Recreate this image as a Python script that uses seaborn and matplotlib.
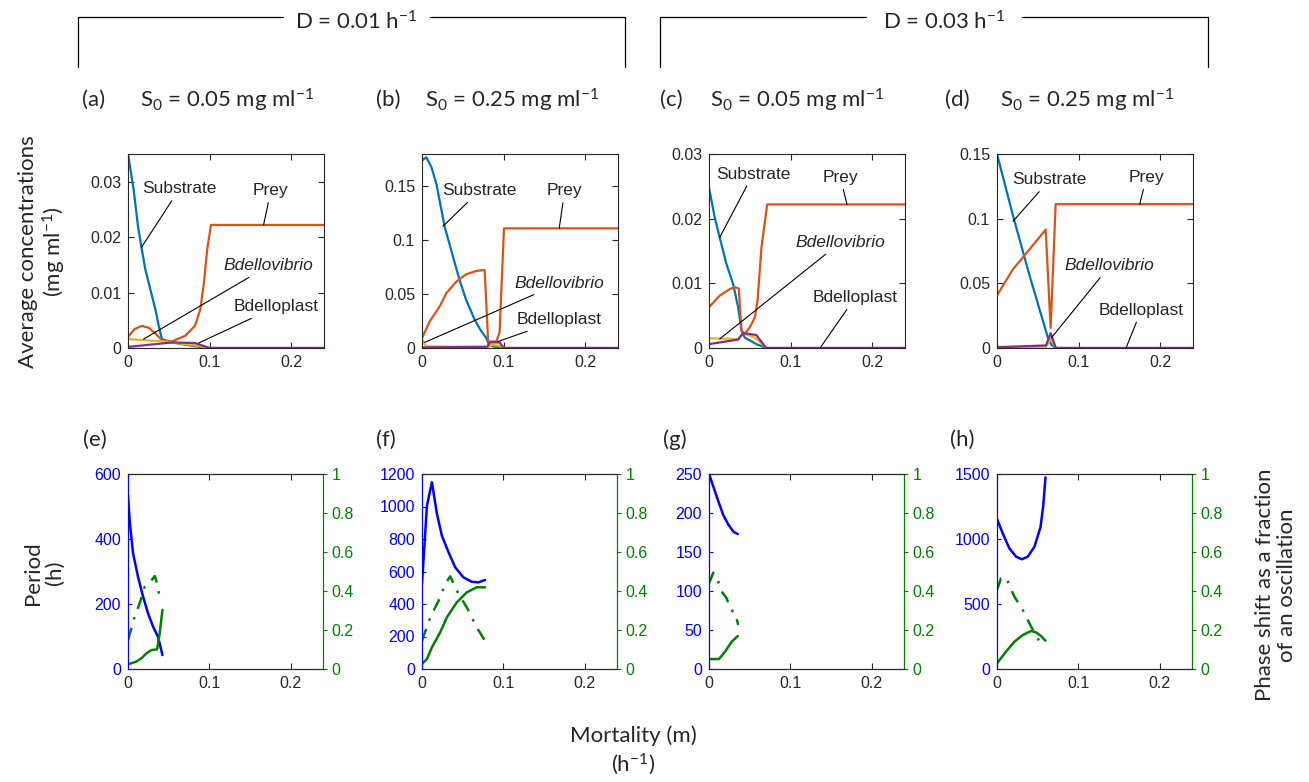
import matplotlib
matplotlib.use("Agg")
import matplotlib.pyplot as plt
from matplotlib.lines import Line2D
from matplotlib.ticker import FuncFormatter, MultipleLocator
import seaborn as sns

# ---------------- data ----------------
# panel (a)  D = 0.01, S0 = 0.05
sub_a_m = [0, 0.0069, 0.0122, 0.0163, 0.0212, 0.0273, 0.0335, 0.0376, 0.0416, 0.054, 0.078, 0.099, 0.24]
sub_a = [0.035, 0.0286, 0.0220, 0.0183, 0.0142, 0.0106, 0.0070, 0.0040, 0.0016, 0.0010, 0.0004, 0, 0]
prey_a_m = [0, 0.008, 0.017, 0.026, 0.035, 0.042, 0.054, 0.070, 0.082, 0.0886, 0.093, 0.097, 0.1016, 0.24]
prey_a = [0.0020, 0.0034, 0.0040, 0.0036, 0.0024, 0.0013, 0.0012, 0.0022, 0.0040, 0.0070, 0.0118, 0.0178, 0.0222, 0.0222]
vib_a_m = [0, 0.042, 0.086, 0.099, 0.24]
vib_a = [0.0016, 0.0012, 0.0004, 0, 0]
plast_a_m = [0, 0.054, 0.082, 0.100, 0.24]
plast_a = [0.0002, 0.0010, 0.0009, 0, 0]

# panel (b)  D = 0.01, S0 = 0.25
sub_b_m = [0, 0.0053, 0.0114, 0.0176, 0.0278, 0.038, 0.046, 0.054, 0.0645, 0.0727, 0.0788, 0.082, 0.087, 0.099, 0.24]
sub_b = [0.174, 0.177, 0.168, 0.1525, 0.1124, 0.0847, 0.063, 0.0447, 0.0262, 0.0154, 0.0092, 0.003, 0.0015, 0, 0]
prey_b_m = [0, 0.0094, 0.0216, 0.0298, 0.042, 0.054, 0.0665, 0.0767, 0.081, 0.091, 0.095, 0.1004, 0.24]
prey_b = [0.0092, 0.0246, 0.0385, 0.0508, 0.0616, 0.0684, 0.0715, 0.0724, 0.006, 0.006, 0.0145, 0.111, 0.111]
vib_b_m = [0, 0.005, 0.080, 0.085, 0.095, 0.100, 0.24]
vib_b = [0.008, 0.0015, 0.0008, 0.003, 0.002, 0, 0]
plast_b_m = [0, 0.080, 0.083, 0.095, 0.100, 0.24]
plast_b = [0.0005, 0.0012, 0.0052, 0.0052, 0, 0]

# panel (c)  D = 0.03, S0 = 0.05
sub_c_m = [0, 0.007, 0.0131, 0.0213, 0.0295, 0.0357, 0.0398, 0.0439, 0.058, 0.070, 0.24]
sub_c = [0.0248, 0.0202, 0.0171, 0.0130, 0.0099, 0.0063, 0.0027, 0.0016, 0.0006, 0, 0]
prey_c_m = [0, 0.0131, 0.0254, 0.0316, 0.0365, 0.0398, 0.0439, 0.050, 0.0561, 0.0594, 0.0643, 0.0713, 0.24]
prey_c = [0.0063, 0.0081, 0.0091, 0.0094, 0.0092, 0.0027, 0.0022, 0.0032, 0.0047, 0.0073, 0.0156, 0.0222, 0.0222]
vib_c_m = [0, 0.0357, 0.0418, 0.056, 0.070, 0.24]
vib_c = [0.0015, 0.0014, 0.0023, 0.0016, 0, 0]
plast_c_m = [0, 0.0357, 0.0418, 0.058, 0.070, 0.24]
plast_c = [0.0006, 0.0013, 0.0023, 0.0020, 0, 0]

# panel (d)  D = 0.03, S0 = 0.25
sub_d_m = [0, 0.0196, 0.040, 0.0624, 0.0665, 0.072, 0.24]
sub_d = [0.150, 0.1023, 0.0557, 0.0078, 0.0026, 0, 0]
prey_d_m = [0, 0.0196, 0.040, 0.0596, 0.0657, 0.0718, 0.24]
prey_d = [0.0407, 0.0609, 0.0764, 0.0915, 0.0155, 0.1112, 0.1112]
vib_d_m = [0, 0.060, 0.066, 0.072, 0.24]
vib_d = [0.001, 0.001, 0.007, 0, 0]
plast_d_m = [0, 0.060, 0.0657, 0.072, 0.24]
plast_d = [0.0005, 0.0020, 0.0115, 0, 0]

# period (h) and phase shift, panels (e)-(h)
per_e_m = [0, 0.002, 0.0062, 0.0123, 0.0185, 0.0247, 0.0309, 0.037, 0.0424]
per_e = [535, 458, 356, 284, 223, 171, 130, 99, 43]
ph_e_m = [0, 0.0103, 0.0165, 0.0226, 0.0288, 0.0358, 0.039, 0.0424]
ph_e = [0.024, 0.038, 0.055, 0.080, 0.097, 0.101, 0.183, 0.303]
ph2_e_m = [0, 0.0082, 0.0144, 0.0206, 0.0267, 0.033, 0.0358, 0.040]
ph2_e = [0.149, 0.268, 0.337, 0.422, 0.443, 0.477, 0.44, 0.345]

per_f_m = [0, 0.0061, 0.0122, 0.0184, 0.0245, 0.0327, 0.0408, 0.051, 0.0612, 0.0694, 0.0776]
per_f = [523, 1005, 1149, 954, 820, 718, 626, 564, 537, 533, 548]
ph_f_m = [0, 0.0061, 0.0122, 0.0224, 0.0306, 0.0429, 0.0551, 0.0673, 0.0776]
ph_f = [0.026, 0.051, 0.111, 0.188, 0.265, 0.342, 0.393, 0.419, 0.419]
ph2_f_m = [0, 0.0102, 0.0204, 0.0286, 0.0347, 0.0449, 0.0551, 0.0673, 0.0776]
ph2_f = [0.145, 0.265, 0.350, 0.436, 0.475, 0.385, 0.316, 0.214, 0.145]

per_g_m = [0, 0.0053, 0.0115, 0.0177, 0.0239, 0.030, 0.0354]
per_g = [250, 234, 215, 197, 185, 176, 173]
ph_g_m = [0, 0.0123, 0.0198, 0.028, 0.0354]
ph_g = [0.051, 0.051, 0.089, 0.140, 0.169]
ph2_g_m = [0, 0.0053, 0.0095, 0.0156, 0.0218, 0.0267, 0.032, 0.036]
ph2_g = [0.439, 0.494, 0.470, 0.397, 0.362, 0.303, 0.290, 0.226]

per_h_m = [0, 0.007, 0.0152, 0.0235, 0.0305, 0.0379, 0.0461, 0.0535, 0.0568, 0.0597]
per_h = [1154, 1044, 928, 864, 844, 864, 941, 1090, 1249, 1474]
ph_h_m = [0, 0.0111, 0.0214, 0.0317, 0.042, 0.048, 0.0543, 0.0597]
ph_h = [0.029, 0.089, 0.140, 0.174, 0.195, 0.188, 0.169, 0.145]
ph2_h_m = [0, 0.0049, 0.0111, 0.0214, 0.0317, 0.042, 0.0502, 0.0564]
ph2_h = [0.405, 0.465, 0.470, 0.371, 0.303, 0.217, 0.157, 0.106]

# ---------------- style ----------------
sns.set_style("ticks")
plt.rcParams['font.family'] = ['Liberation Sans', 'DejaVu Sans']
plt.rcParams['mathtext.default'] = 'regular'
LABEL_FONT = ['Lato', 'DejaVu Sans']

colors = ['#0072BD', '#D95319', '#EDB120', '#7E2F8E']
BLUE, GREEN, GRAY = '#0000FF', '#008000', '#262626'
TICK_FS = 11.5

W, H = 1309, 782
fig = plt.figure(figsize=(W / 100, H / 100), dpi=100)
fmt = FuncFormatter(lambda v, p: f"{v:g}")
lefts = [128, 422, 709, 997]


def conc_panel(left, series, ymax, ystep, notes):
    ax = fig.add_axes([left / W, 1 - 348 / H, 196 / W, 194 / H])
    for (m, v), c in zip(series, colors):
        sns.lineplot(x=m, y=v, ax=ax, color=c, lw=1.6, sort=False, estimator=None)
    ax.set_xlim(0, 0.24)
    ax.set_ylim(0, ymax)
    ax.xaxis.set_major_locator(MultipleLocator(0.1))
    ax.yaxis.set_major_locator(MultipleLocator(ystep))
    ax.xaxis.set_major_formatter(fmt)
    ax.yaxis.set_major_formatter(fmt)
    ax.tick_params(direction='in', top=True, right=True, length=4, width=0.8,
                   labelsize=TICK_FS, colors=GRAY, pad=5)
    for s in ax.spines.values():
        s.set_color(GRAY)
        s.set_linewidth(0.8)
    ax.set_xlabel('')
    ax.set_ylabel('')
    for label, xy, xyt in notes:
        ax.annotate(label, xy=xy, xytext=xyt, ha='center', va='center', fontsize=12.5,
                    style='italic' if label == 'Bdellovibrio' else 'normal',
                    arrowprops=dict(arrowstyle='-', color='k', lw=0.8, shrinkA=1, shrinkB=0))
    return ax


def period_panel(left, per, ph, ph2, ymax, ystep):
    ax = fig.add_axes([left / W, 1 - 669 / H, 195 / W, 195 / H])
    ax2 = ax.twinx()
    sns.lineplot(x=per[0], y=per[1], ax=ax, color=BLUE, lw=1.8, sort=False, estimator=None)
    sns.lineplot(x=ph[0], y=ph[1], ax=ax2, color=GREEN, lw=1.8, sort=False, estimator=None)
    sns.lineplot(x=ph2[0], y=ph2[1], ax=ax2, color=GREEN, lw=1.8, sort=False, estimator=None,
                 linestyle=(0, (5, 3.5, 1, 3.5)))
    ax.set_xlim(0, 0.24)
    ax.set_ylim(0, ymax)
    ax2.set_ylim(0, 1)
    ax.xaxis.set_major_locator(MultipleLocator(0.1))
    ax.yaxis.set_major_locator(MultipleLocator(ystep))
    ax2.yaxis.set_major_locator(MultipleLocator(0.2))
    for a in (ax, ax2):
        a.xaxis.set_major_formatter(fmt)
        a.yaxis.set_major_formatter(fmt)
        a.set_xlabel('')
        a.set_ylabel('')
        for s in a.spines.values():
            s.set_linewidth(0.8)
        a.spines['top'].set_color(GRAY)
        a.spines['bottom'].set_color(GRAY)
        a.spines['left'].set_color(BLUE)
        a.spines['right'].set_color(GREEN)
    ax.tick_params(axis='x', direction='in', top=True, length=4, labelsize=TICK_FS, colors=GRAY, pad=5)
    ax.tick_params(axis='y', direction='in', length=3, labelsize=TICK_FS, colors=BLUE, pad=5)
    ax2.tick_params(axis='y', direction='out', length=3, labelsize=TICK_FS, colors=GREEN, pad=3)
    return ax


conc_panel(lefts[0], [(sub_a_m, sub_a), (prey_a_m, prey_a), (vib_a_m, vib_a), (plast_a_m, plast_a)],
           0.035, 0.01,
           [('Substrate', (0.0163, 0.0181), (0.063, 0.0287)),
            ('Prey', (0.166, 0.0222), (0.175, 0.0284)),
            ('Bdellovibrio', (0.019, 0.0016), (0.172, 0.0148)),
            ('Bdelloplast', (0.0865, 0.0009), (0.181, 0.0074))])
conc_panel(lefts[1], [(sub_b_m, sub_b), (prey_b_m, prey_b), (vib_b_m, vib_b), (plast_b_m, plast_b)],
           0.18, 0.05,
           [('Substrate', (0.0257, 0.113), (0.0706, 0.146)),
            ('Prey', (0.168, 0.111), (0.1747, 0.146)),
            ('Bdellovibrio', (0.0033, 0.0052), (0.1686, 0.060)),
            ('Bdelloplast', (0.093, 0.006), (0.1678, 0.026))])
conc_panel(lefts[2], [(sub_c_m, sub_c), (prey_c_m, prey_c), (vib_c_m, vib_c), (plast_c_m, plast_c)],
           0.03, 0.01,
           [('Substrate', (0.0131, 0.0171), (0.054, 0.0269)),
            ('Prey', (0.169, 0.0222), (0.1607, 0.0264)),
            ('Bdellovibrio', (0.0131, 0.0014), (0.1607, 0.0163)),
            ('Bdelloplast', (0.136, 0.0), (0.179, 0.0078))])
conc_panel(lefts[3], [(sub_d_m, sub_d), (prey_d_m, prey_d), (vib_d_m, vib_d), (plast_d_m, plast_d)],
           0.15, 0.05,
           [('Substrate', (0.0196, 0.098), (0.0645, 0.130)),
            ('Prey', (0.1747, 0.1112), (0.183, 0.132)),
            ('Bdellovibrio', (0.0665, 0.0078), (0.138, 0.0635)),
            ('Bdelloplast', (0.158, 0.0), (0.1767, 0.0293))])

period_panel(lefts[0], (per_e_m, per_e), (ph_e_m, ph_e), (ph2_e_m, ph2_e), 600, 200)
period_panel(lefts[1], (per_f_m, per_f), (ph_f_m, ph_f), (ph2_f_m, ph2_f), 1200, 200)
period_panel(lefts[2], (per_g_m, per_g), (ph_g_m, ph_g), (ph2_g_m, ph2_g), 250, 50)
period_panel(lefts[3], (per_h_m, per_h), (ph_h_m, ph_h), (ph2_h_m, ph2_h), 1500, 500)


# ---------------- figure text / brackets ----------------
def ftext(x, y, s, **kw):
    kw.setdefault('fontsize', 16)
    kw.setdefault('family', LABEL_FONT)
    fig.text(x / W, 1 - y / H, s, **kw)


def bracket(x0, x1, gap0, gap1):
    for xs, ys in [([x0, x0, gap0], [67, 17, 17]), ([gap1, x1, x1], [17, 17, 67])]:
        fig.add_artist(Line2D([x / W for x in xs], [1 - y / H for y in ys],
                              color='k', lw=0.9))


bracket(78, 625, 283, 430)
bracket(660, 1208, 866, 1022)
ftext(356, 22, 'D = 0.01 h$^{-1}$', ha='center', va='center')
ftext(944, 22, 'D = 0.03 h$^{-1}$', ha='center', va='center')

for x_lab, lab, x_s, s in [(82, '(a)', 140, 'S$_0$ = 0.05 mg ml$^{-1}$'),
                           (376, '(b)', 425, 'S$_0$ = 0.25 mg ml$^{-1}$'),
                           (660, '(c)', 710, 'S$_0$ = 0.05 mg ml$^{-1}$'),
                           (945, '(d)', 1000, 'S$_0$ = 0.25 mg ml$^{-1}$')]:
    ftext(x_lab, 100, lab, ha='left', va='center')
    ftext(x_s, 100, s, ha='left', va='center')

for x_lab, lab in [(83, '(e)'), (376, '(f)'), (663, '(g)'), (950, '(h)')]:
    ftext(x_lab, 440, lab, ha='left', va='center')

ftext(43, 252, 'Average concentrations\n(mg ml$^{-1}$)', ha='center', va='center',
      rotation=90, multialignment='center', linespacing=1.15)
ftext(44, 573, 'Period\n(h)', ha='center', va='center', rotation=90,
      multialignment='center', linespacing=1.15)
ftext(1276, 585, 'Phase shift as a fraction\nof an oscillation', ha='center', va='center',
      rotation=90, multialignment='center', linespacing=1.15)
ftext(633, 751, 'Mortality (m)\n(h$^{-1}$)', ha='center', va='center',
      multialignment='center', linespacing=1.25)

fig.savefig('out.png', dpi=100)
